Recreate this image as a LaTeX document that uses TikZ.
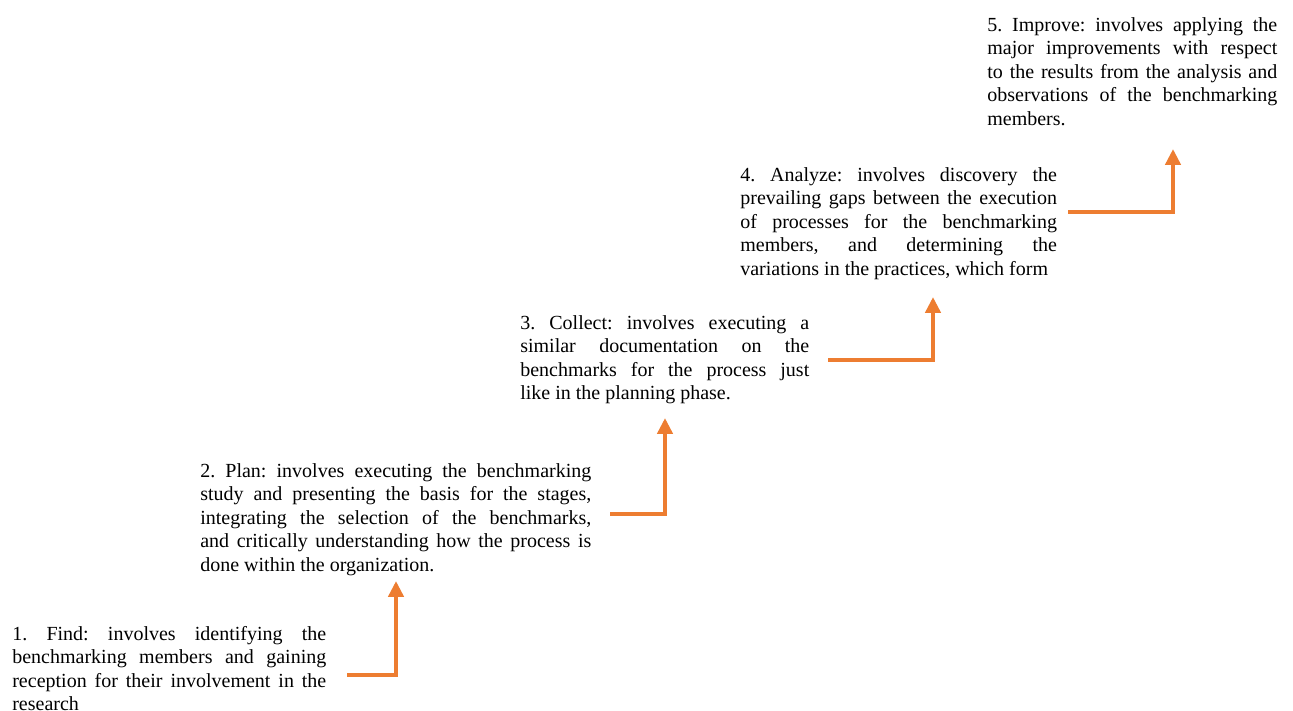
\documentclass[tikz,border=0pt]{standalone}
\usepackage{fontspec}
\setmainfont{Liberation Serif}
\usetikzlibrary{arrows.meta}
\definecolor{stairorange}{RGB}{237,125,49}
\hyphenpenalty=10000
\tolerance=10000
\frenchspacing
\tikzset{
  stage/.style={anchor=north west, inner sep=0pt, text width=#1, align=justify,
    font=\fontsize{12}{14.07}\selectfont},
  stair/.style={-{Triangle[width=9pt,length=9.5pt]}, stairorange, line width=2.4pt}
}
\begin{document}
\begin{tikzpicture}[x=0.6pt,y=-0.6pt]
    \useasboundingbox (0,0) rectangle (1293,711);
    \node[stage=188.4pt] (find) at (12,623.5) {\strut 1. Find: involves identifying the\linebreak benchmarking members and gaining\linebreak reception for their involvement in the\linebreak research};
    \node[stage=234.6pt] (plan) at (200,460.6) {\strut 2. Plan: involves executing the benchmarking\linebreak study and presenting the basis for the stages,\linebreak integrating the selection of the benchmarks,\linebreak and critically understanding how the process is\linebreak done within the organization.};
    \node[stage=173.4pt] (collect) at (520,312.6) {\strut 3. Collect: involves executing a\linebreak similar documentation on the\linebreak benchmarks for the process just\linebreak like in the planning phase.};
    \node[stage=190pt] (analyze) at (740,164.6) {\strut 4. Analyze: involves discovery the\linebreak prevailing gaps between the execution\linebreak of processes for the benchmarking\linebreak members, and determining the\linebreak \mbox{variations} in the practices, which~form};
    \node[stage=174pt] (improve) at (987,14.6) {\strut 5. Improve: involves applying the\linebreak major improvements with respect\linebreak to the results from the analysis and\linebreak observations of the benchmarking\linebreak members.};
    \coordinate (findout) at (347,675);
    \coordinate (planin) at (396,581);
    \coordinate (planout) at (610,514);
    \coordinate (collectin) at (665,418);
    \coordinate (collectout) at (828,360);
    \coordinate (analyzein) at (933,297);
    \coordinate (analyzeout) at (1068,212);
    \coordinate (improvein) at (1173,149);
    \draw[stair] (findout) -| (planin);
    \draw[stair] (planout) -| (collectin);
    \draw[stair] (collectout) -| (analyzein);
    \draw[stair] (analyzeout) -| (improvein);
\end{tikzpicture}
\end{document}
